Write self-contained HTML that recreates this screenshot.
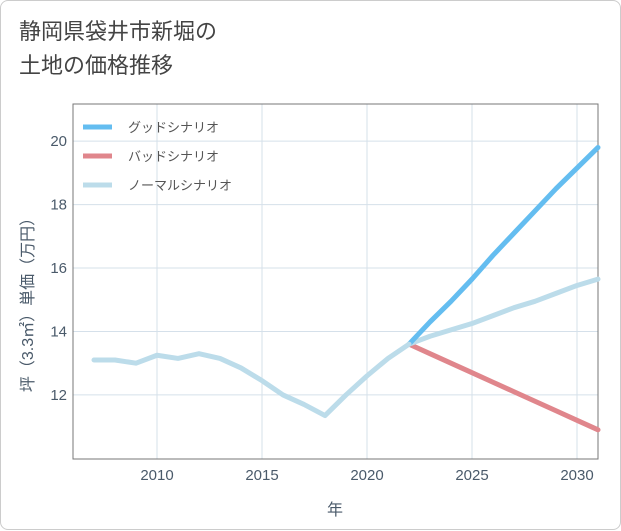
<!DOCTYPE html>
<html><head><meta charset="utf-8"><style>
body{margin:0;background:#fff;font-family:"Liberation Sans","Noto Sans CJK JP",sans-serif;}
#card{position:absolute;left:0;top:0;width:619px;height:528px;border:1px solid #ccc;border-radius:8px;background:#fff;}
#title{position:absolute;left:18px;top:14px;font-size:22px;line-height:34px;color:#444;}
</style></head><body>
<div id="card">
<div id="title">静岡県袋井市新堀の<br>土地の価格推移</div>
<svg id="chart" width="621" height="530" style="position:absolute;left:0;top:0"></svg>
</div>
<script>
const years=[2007,2008,2009,2010,2011,2012,2013,2014,2015,2016,2017,2018,2019,2020,2021,2022];
const normalHist=[13.1,13.1,13.0,13.25,13.15,13.3,13.15,12.85,12.45,12.0,11.7,11.35,12.0,12.6,13.15,13.6];
const futYears=[2022,2023,2024,2025,2026,2027,2028,2029,2030,2031];
const goodVals=[13.6,14.3,14.95,15.65,16.4,17.1,17.8,18.5,19.15,19.8];
const badVals=[13.6,13.3,13.0,12.7,12.4,12.1,11.8,11.5,11.2,10.9];
const normalVals=[13.6,13.85,14.05,14.25,14.5,14.75,14.95,15.2,15.45,15.65];
const xTicks=[2010,2015,2020,2025,2030];
const yTicks=[12,14,16,18,20];
const L=72,R=597,T=103,B=458,x0=2006,x1=2031,y0=9.98,y1=21.17;
const X=v=>L+(v-x0)/(x1-x0)*(R-L), Y=v=>B-(v-y0)/(y1-y0)*(B-T);
const svg=document.getElementById('chart'),NS='http://www.w3.org/2000/svg';
const TC='#4a5a6a';
function mk(t,a){const e=document.createElementNS(NS,t);for(const k in a)e.setAttribute(k,a[k]);svg.appendChild(e);return e;}
let e;
xTicks.forEach(v=>{e=mk('line',{x1:X(v),x2:X(v),y1:T,y2:B,stroke:'#d5e0ea'});

e=mk('text',{x:X(v),y:B+21,'text-anchor':'middle','font-size':15,fill:TC});e.textContent=v;
});
yTicks.forEach(v=>{e=mk('line',{x1:L,x2:R,y1:Y(v),y2:Y(v),stroke:'#d5e0ea'});

e=mk('text',{x:L-6,y:Y(v)+5,'text-anchor':'end','font-size':15,fill:TC});e.textContent=v;
});
e=mk('rect',{x:L,y:T,width:R-L,height:B-T,fill:'none',stroke:'#777'});

function line(xs,ys,c,n){const d=xs.map((v,i)=>(i?'L':'M')+X(v)+','+Y(ys[i])).join('');
const p=mk('path',{d:d,fill:'none',stroke:c,'stroke-width':5,'stroke-linejoin':'round','stroke-linecap':'round'});
}
line(futYears,badVals,'#e0868c','bad-scenario-line');
line(futYears,normalVals,'#bcdcea','normal-scenario-line');
line(futYears,goodVals,'#64bdf0','good-scenario-line');
line(years,normalHist,'#bcdcea','historical-line');
const leg=[['グッドシナリオ','#64bdf0'],['バッドシナリオ','#e0868c'],['ノーマルシナリオ','#bcdcea']];
leg.forEach((l,i)=>{const y=126+i*29;
e=mk('line',{x1:82,x2:111,y1:y,y2:y,stroke:l[1],'stroke-width':5});

e=mk('text',{x:127,y:y+5,'font-size':13,fill:'#555'});e.textContent=l[0];
});
e=mk('text',{x:334,y:514,'text-anchor':'middle','font-size':16,fill:TC});e.textContent='年';

e=mk('text',{x:0,y:0,'text-anchor':'middle','font-size':16,fill:TC,transform:'translate(32,300) rotate(-90)'});e.textContent='坪（3.3㎡）単価（万円）';

</script>
</body></html>
